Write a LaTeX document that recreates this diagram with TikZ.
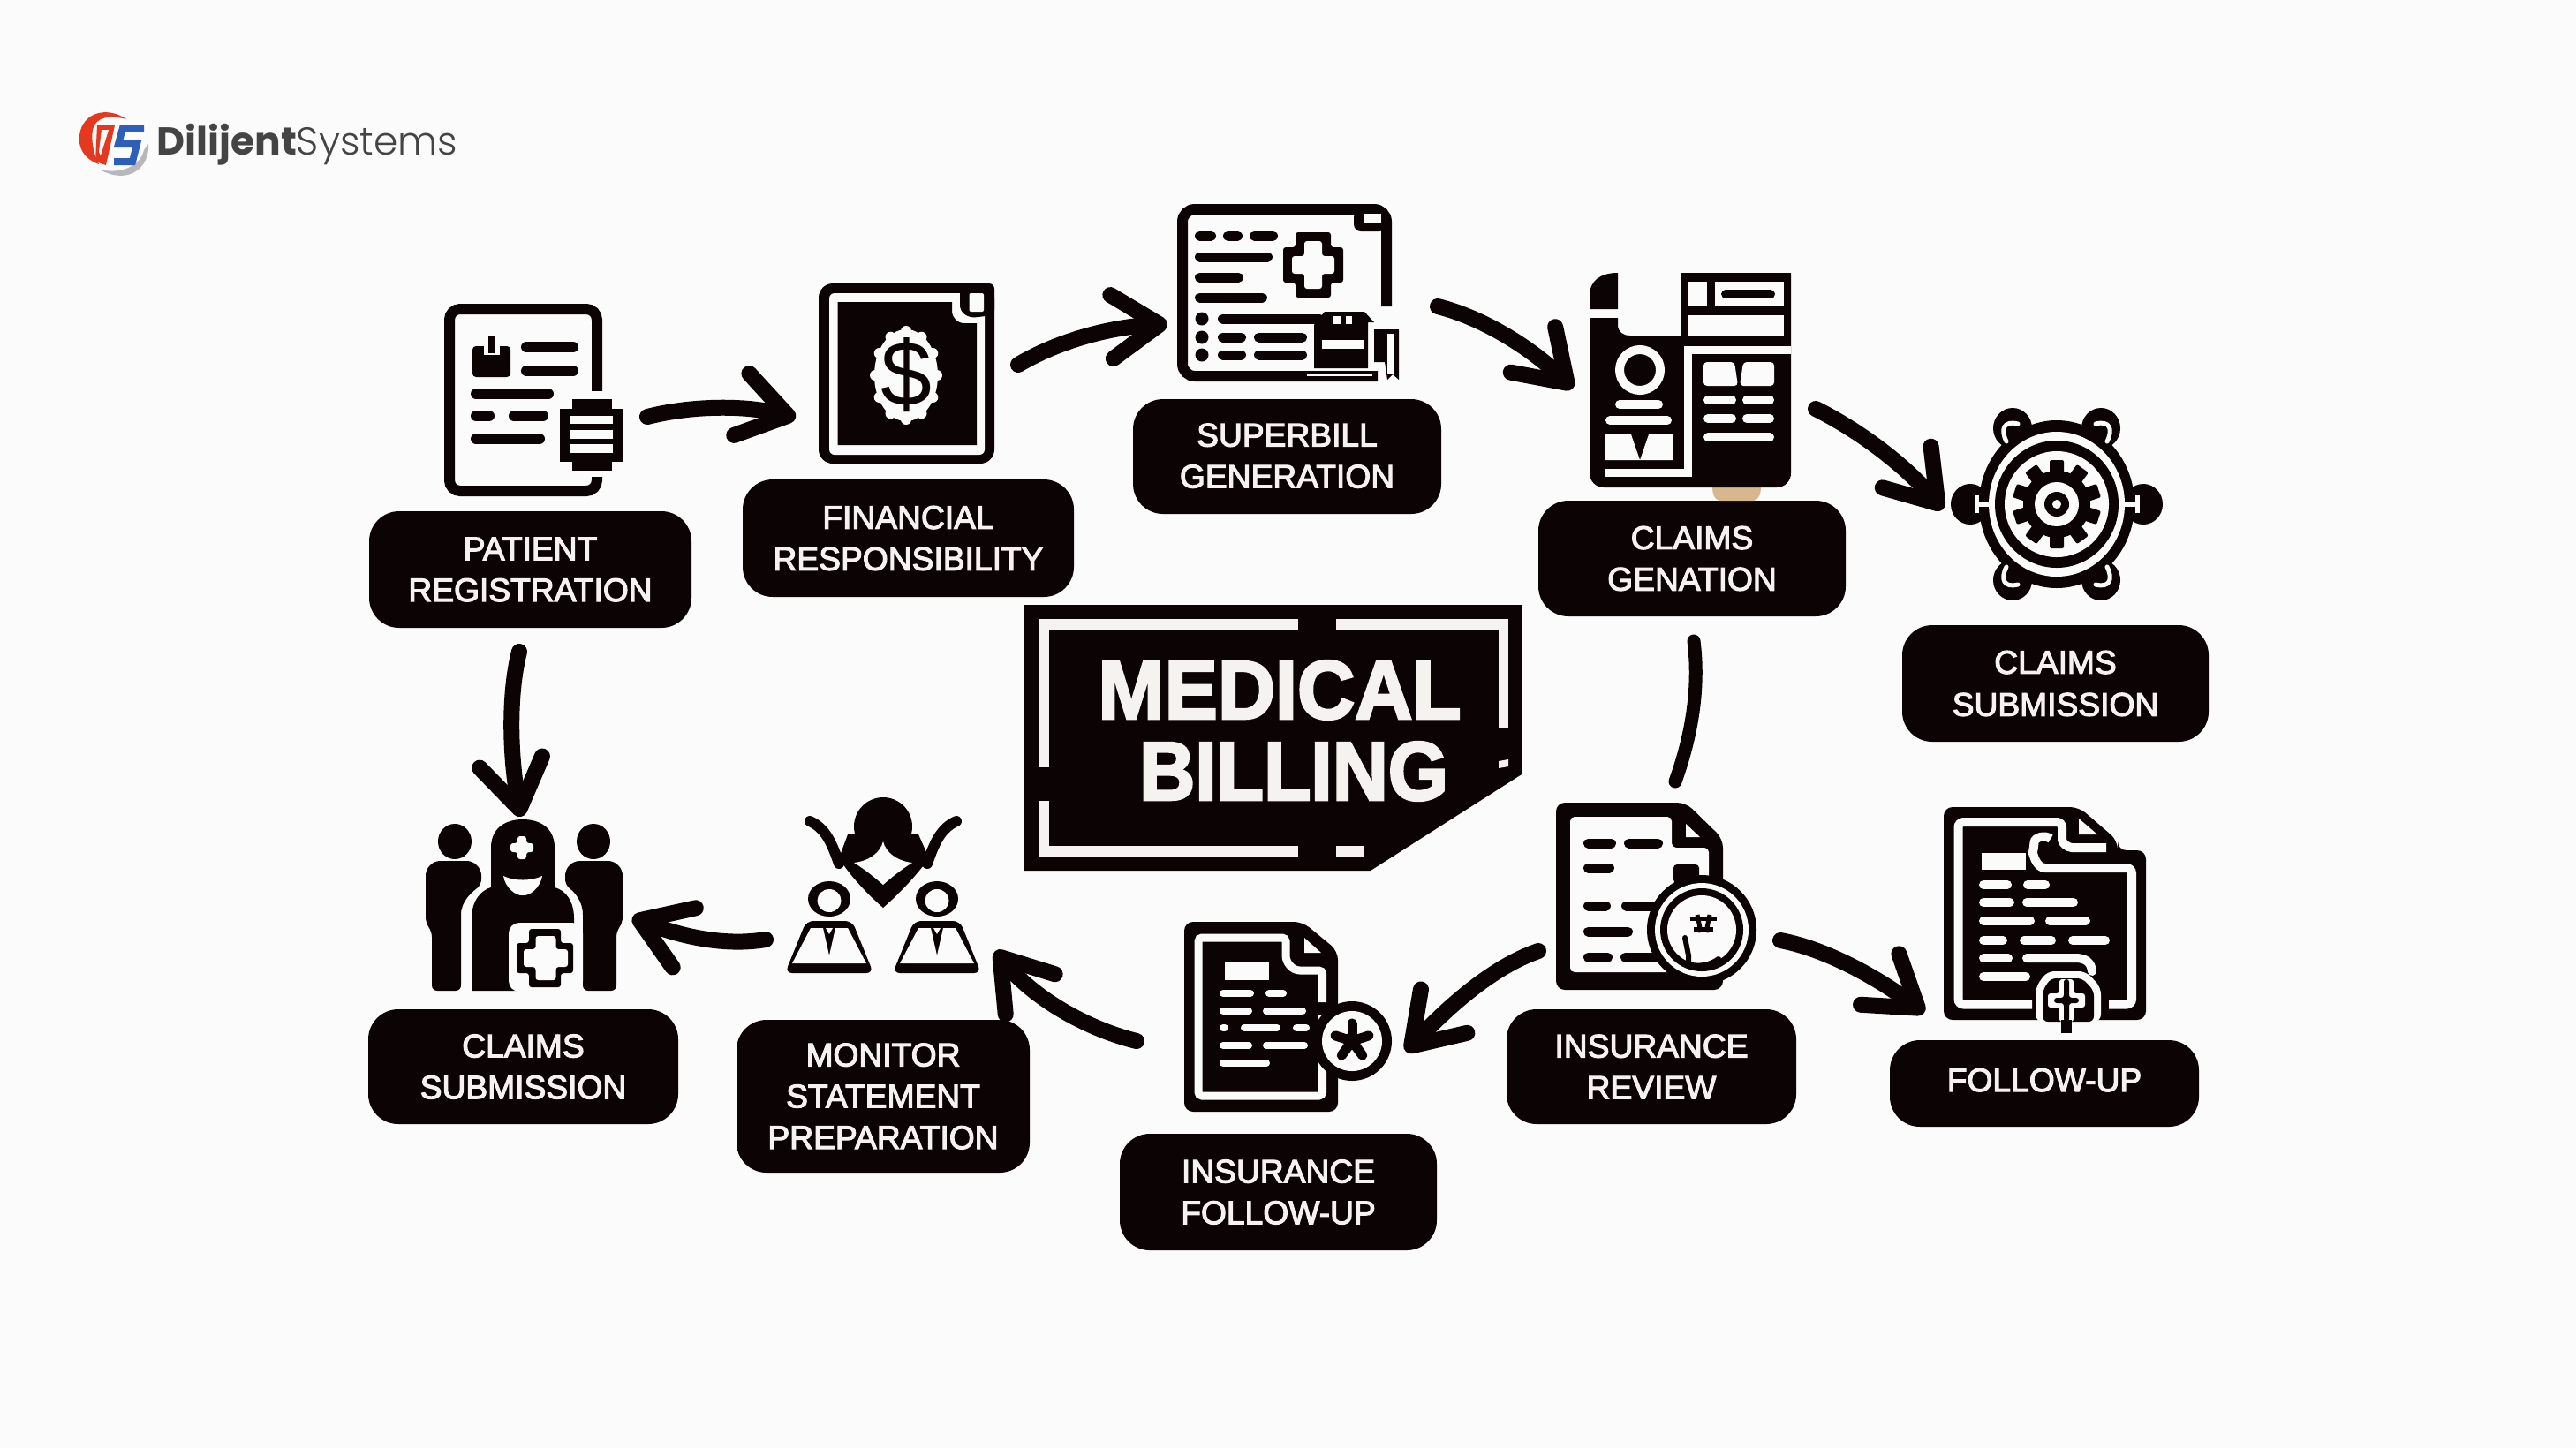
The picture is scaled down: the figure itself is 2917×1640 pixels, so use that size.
\documentclass[tikz,border=0pt]{standalone}
\usepackage{fontspec}
\usetikzlibrary{arrows.meta}
\setmainfont{Liberation Sans}
\newfontfamily\lablefont{Liberation Sans}[RawFeature={embolden=3}]
\newfontfamily\titlefont{Liberation Sans Bold}[RawFeature={embolden=3}]
\newfontfamily\logofont{Poppins}
\newfontfamily\logolight{Poppins Light}
\definecolor{ink}{HTML}{0C0404}
\definecolor{paper}{HTML}{FBFBFB}
\definecolor{glyph}{HTML}{F6F2F0}
\definecolor{logored}{HTML}{E5391F}
\definecolor{logoblue}{HTML}{2E5FB8}
\definecolor{logogrey}{HTML}{B8B8B8}
\definecolor{logotext}{HTML}{444444}
\definecolor{tan}{HTML}{D8B68E}
\tikzset{
  lab/.style={fill=ink,text=glyph,rounded corners=17pt,inner sep=0pt,align=center,
    font=\lablefont\fontsize{18.6pt}{23.4pt}\selectfont},
  flow/.style={draw=ink,line width=9pt,line cap=round,
    -{Straight Barb[length=27pt,width=36pt,line width=9pt,round]}},
  bare/.style={draw=ink,line width=7.5pt,line cap=round},
  bpillline/.style={draw=ink,line cap=round},
  wpillline/.style={draw=paper,line cap=round},
}
\newcommand\lbl[6]{\node[lab,minimum width={(#4-#2)*0.5pt},minimum height={(#5-#3)*0.5pt}] (#1) at ({(#2+#4)/2},{(#3+#5)/2}) {#6};}
\newcommand\bpill[4][11]{\draw[bpillline,line width=#1*0.5pt] ({#2+#1/2},#4) -- ({#3-#1/2},#4);}
\newcommand\wpill[4][10]{\draw[wpillline,line width=#1*0.5pt] ({#2+#1/2},#4) -- ({#3-#1/2},#4);}
% cx cy hx hy ax ay colour
\newcommand\plusshape[7]{\fill[#7,rounded corners=1.5pt] ({#1-#5},{#2-#4}) -- ({#1+#5},{#2-#4}) -- ({#1+#5},{#2-#6}) -- ({#1+#3},{#2-#6}) -- ({#1+#3},{#2+#6}) -- ({#1+#5},{#2+#6}) -- ({#1+#5},{#2+#4}) -- ({#1-#5},{#2+#4}) -- ({#1-#5},{#2+#6}) -- ({#1-#3},{#2+#6}) -- ({#1-#3},{#2-#6}) -- ({#1-#5},{#2-#6}) -- cycle;}
\begin{document}
\begin{tikzpicture}[x=0.5pt,y=-0.5pt]
\useasboundingbox (0,0) rectangle (2917,1640);
\fill[paper] (0,0) rectangle (2917,1640);

% ---------- logo
\fill[logogrey] (168,163) .. controls (170,190) and (145,210) .. (113,192) .. controls (135,197) and (158,190) .. (163,170) -- cycle;
\fill[logored] (143,135) .. controls (125,122) and (100,125) .. (92,145) .. controls (85,165) and (95,180) .. (112,186) .. controls (106,175) and (103,160) .. (105,147) .. controls (108,132) and (125,130) .. (143,135) -- cycle;
\fill[logored] (110,142) -- (130,142) -- (120,187) -- (108,183) -- cycle;
\fill[paper] (115,147) -- (123,147) -- (114,176) -- (112,172) -- cycle;
\draw[logoblue,line width=4pt,miter limit=10] (163,145) -- (139,145) -- (134,163) -- (155,163) -- (150,183) -- (129,183);
\node[anchor=base west,inner sep=0pt,text=logotext] (logo) at (177,175) {\fontsize{22pt}{22pt}\selectfont{\logofont\bfseries Dilijent}{\logolight Systems}};

% ---------- centre plate
\fill[ink] (1160,685) -- (1723,685) -- (1723,877) -- (1552,986) -- (1160,986) -- cycle;
\fill[glyph] (1177,701) rectangle (1470,713);
\fill[glyph] (1177,701) rectangle (1187.5,869);
\fill[glyph] (1177,907) rectangle (1187.5,970);
\fill[glyph] (1177,958) rectangle (1469.5,970);
\fill[glyph] (1512.5,958) rectangle (1545,970);
\fill[glyph] (1512.5,701) rectangle (1708,713);
\fill[glyph] (1697,701) rectangle (1708,825);
\fill[glyph] (1697,862) -- (1708,860) -- (1708,868) -- (1697,870) -- cycle;
\node[inner sep=0pt,text=glyph] (title1) at (1449,781.5) {\titlefont\fontsize{47pt}{47pt}\selectfont\scalebox{.96}[1]{MEDICAL}};
\node[inner sep=0pt,text=glyph] (title2) at (1465,873.5) {\titlefont\fontsize{47pt}{47pt}\selectfont\scalebox{.93}[1]{BILLING}};

% ---------- labels
\lbl{l1}{418}{579}{783}{711}{PATIENT\\REGISTRATION}
\lbl{l2}{841}{543}{1216}{676}{FINANCIAL\\RESPONSIBILITY}
\lbl{l3}{1283}{452}{1632}{582}{\raisebox{1pt}{SUPERBILL}\\\raisebox{1pt}{GENERATION}}
\lbl{l4}{1742}{567}{2090}{698}{CLAIMS\\GENATION}
\lbl{l5}{2154}{708}{2501}{840}{\raisebox{.5pt}{CLAIMS}\\SUBMISSION}
\lbl{l6}{2140}{1178}{2490}{1276}{\raisebox{4pt}{FOLLOW-UP}}
\lbl{l7}{1706}{1143}{2034}{1273}{INSURANCE\\REVIEW}
\lbl{l8}{1268}{1284}{1627}{1416}{INSURANCE\\FOLLOW-UP}
\lbl{l9}{834}{1155}{1166}{1328}{MONITOR\\STATEMENT\\PREPARATION}
\lbl{l10}{417}{1143}{768}{1273}{CLAIMS\\SUBMISSION}

% ---------- icon 1: patient form
\draw[ink,line width=6pt,rounded corners=6pt] (509,350) rectangle (676,556);
\fill[paper] (660,443) rectangle (700,540);
\fill[ink] (648,452) rectangle (693,533);
\fill[ink] (634,463) rectangle (706,523);
\fill[paper] (645,471) rectangle (694,480);
\fill[paper] (645,487) rectangle (694,497);
\fill[paper] (645,503) rectangle (694,513);
\fill[ink,rounded corners=2pt] (535,392) rectangle (578,427);
\fill[paper] (548,385) rectangle (566,402);
\fill[ink] (553,380) rectangle (561,400);
\bpill[12]{590}{655}{393}
\bpill[12]{590}{655}{420}
\bpill[12]{533}{627}{446}
\bpill[12]{533}{560}{471}
\bpill[12]{576}{621}{471}
\bpill[12]{533}{617}{497}

% ---------- icon 2: financial document
\fill[ink,rounded corners=8pt] (927,321) rectangle (1126,525);
\fill[paper,rounded corners=3pt] (939,332) rectangle (1115,515);
\fill[ink] (948.5,342) -- (1078,342) -- (1078,352) .. controls (1078,360) and (1084,366) .. (1092,366) -- (1106,366) -- (1106,504) -- (948.5,504) -- cycle;
\fill[ink,rounded corners=3pt] (1087,321) -- (1126,321) -- (1126,357) -- (1098,360) -- (1087,352) -- cycle;
\fill[paper,rounded corners=1pt] (1097.5,332) rectangle (1114,353);
\fill[paper] (1026,425) ellipse [x radius=36,y radius=52];
\foreach \a in {0,30,...,330} {\fill[paper] ({1026+35*cos(\a)},{425+50*sin(\a)}) circle [radius=6];}
\node[inner sep=0pt,text=ink] (dollar) at (1026,425) {\fontsize{52pt}{52pt}\selectfont\$};

% ---------- icon 3: superbill
\draw[ink,line width=6pt,rounded corners=7pt] (1570,347) -- (1570,237) -- (1339,237) -- (1339,426) -- (1560,426);
\fill[ink,rounded corners=4pt] (1533,238) -- (1570,238) -- (1570,262) -- (1533,262) -- cycle;
\fill[paper] (1545,242) rectangle (1564,253);
\bpill{1353}{1377}{267}
\bpill{1385}{1407}{267}
\bpill{1415}{1447}{267}
\bpill{1353}{1441}{291}
\bpill{1353}{1408}{314}
\bpill{1353}{1435}{337}
\plusshape{1487}{300}{34}{37}{20}{20}{ink}
\plusshape{1487}{300}{24}{27}{10}{10}{paper}
\foreach \y in {361,382,402} {\fill[ink] (1361,\y) circle [radius=7.5];}
\bpill{1379}{1500}{361}
\bpill{1379}{1411}{382}
\bpill{1420}{1480}{382}
\bpill{1379}{1411}{402}
\bpill{1420}{1480}{402}
\fill[ink] (1488,368) -- (1500,353) -- (1545,353) -- (1556,365) -- (1549,365) -- (1549,417) -- (1488,417) -- cycle;
\fill[paper] (1510,358) rectangle (1518,367);
\fill[paper] (1524,358) rectangle (1531,367);
\fill[paper] (1497,385) rectangle (1544,395);
\fill[paper] (1480,423) rectangle (1554,426);
\fill[ink] (1556,373) -- (1584,373) -- (1584,430) -- (1577,424) -- (1571,430) -- (1568,410) -- (1556,410) -- cycle;
\fill[paper] (1571,378) rectangle (1578,423);

% ---------- icon 4: claims form
\fill[ink] (1832,309) -- (1832,350) -- (1800,350) -- (1800,335) .. controls (1800,318) and (1812,309) .. (1832,309) -- cycle;
\fill[tan] (1939,550) -- (1994,550) .. controls (1994,560) and (1992,565) .. (1986,567) -- (1947,567) .. controls (1941,565) and (1939,560) .. (1939,550) -- cycle;
\fill[ink] (1800,360) -- (1832,360) -- (1832,368) .. controls (1832,376) and (1838,380) .. (1846,380) -- (1903,380) -- (1903,309) -- (2028,309) [rounded corners=8pt] -- (2028,552) -- (1800,552) [sharp corners] -- cycle;
\fill[paper] (1912,319) rectangle (1933,346);
\fill[paper] (1942,319) rectangle (2020,346);
\bpill[10]{1949}{2010}{333}
\fill[paper] (1912,357) rectangle (2020,380);
\draw[paper,line width=4.5pt] (2028,396) -- (1911.5,396) -- (1911.5,535.5) -- (1822,535.5);
\fill[paper] (1817,531) rectangle (1825,540);
\draw[paper,line width=5pt] (1857,419) circle [radius=23];
\wpill{1829}{1883}{458}
\wpill{1818}{1893}{476}
\fill[paper] (1817.5,492) -- (1847,492) -- (1857,521) -- (1867,492) -- (1894.5,492) -- (1894.5,521) -- (1817.5,521) -- cycle;
\fill[paper,rounded corners=2pt] (1929,410) -- (1964,410) -- (1968,437) -- (1929,437) -- cycle;
\fill[paper,rounded corners=2pt] (1974,410) -- (2009,410) -- (2009,437) -- (1970,437) -- cycle;
\wpill{1929}{1966}{453}
\wpill{1973}{2009}{453}
\wpill{1929}{1966}{474}
\wpill{1973}{2009}{474}
\wpill{1929}{2009}{495}

% ---------- icon 5: wheel of gears
\foreach \dx/\dy in {-50/-86,50/-86,-98/0,98/0,-50/86,50/86} {\fill[ink] ({2329+\dx},{571+\dy}) ellipse [x radius=22,y radius=23];}
\fill[ink] (2329,571) ellipse [x radius=88,y radius=95];
\foreach \sx in {1,-1} {\foreach \sy in {1,-1} {
  \draw[paper,line width=2.5pt,line cap=round,shift={(2329,571)},xscale=\sx,yscale=\sy] (-57,-71) .. controls (-64,-85) and (-60,-95) .. (-44,-91);
}}
\draw[paper,line width=2.5pt] (2238,571) -- (2256,571);
\draw[paper,line width=2.5pt] (2238,561) -- (2238,581);
\draw[paper,line width=2.5pt] (2402,571) -- (2420,571);
\draw[paper,line width=2.5pt] (2420,561) -- (2420,581);
\fill[paper] (2329,571) ellipse [x radius=77,y radius=82];
\fill[ink] (2329,571) ellipse [x radius=70,y radius=72];
\fill[paper] (2329,571) ellipse [x radius=59,y radius=60];
\foreach \a in {0,36,...,324} {\fill[ink,shift={(2329,571)},rotate=\a,rounded corners=1pt] (-8,-50) rectangle (8,0);}
\fill[ink] (2329,571) circle [radius=38];
\fill[paper] (2329,571) circle [radius=25];
\fill[ink] (2329,571) circle [radius=14];
\fill[paper] (2329,571) circle [radius=5];

% ---------- icon 6: insurance review document
\fill[ink,rounded corners=5pt] (1762,909) -- (1909,909) -- (1951,950) -- (1951,1121) -- (1762,1121) -- cycle;
\fill[paper,rounded corners=2.5pt] (1778,925) -- (1893,925) -- (1893,960) -- (1935,960) -- (1935,1101) -- (1778,1101) -- cycle;
\fill[paper] (1909,933) -- (1925,948) -- (1909,948) -- cycle;
\bpill{1793}{1830}{955}
\bpill{1839}{1883}{955}
\bpill{1793}{1828}{983}
\bpill{1793}{1824}{1026}
\bpill{1836}{1880}{1026}
\bpill{1793}{1849}{1055}
\bpill{1793}{1826}{1084}
\bpill{1835}{1880}{1084}
\fill[ink,rounded corners=2pt] (1895,979) rectangle (1924,1000);
\fill[ink] (1927,1053) circle [radius=62];
\fill[paper] (1927,1053) circle [radius=53];
\fill[ink] (1927,1053) circle [radius=47];
\fill[paper] (1927,1053) circle [radius=39];
\draw[ink,line width=2.5pt] (1914,1040) -- (1944,1040);
\draw[ink,line width=2.5pt] (1918,1052) -- (1940,1052);
\draw[ink,line width=2.5pt] (1922,1036) -- (1926,1056);
\draw[ink,line width=2.5pt] (1936,1036) -- (1932,1056);
\draw[ink,line width=3pt,line cap=round] (1908,1062) -- (1912,1082) -- (1912,1092) .. controls (1925,1096) and (1938,1092) .. (1946,1086);

% ---------- icon 7: follow-up document
\fill[ink,rounded corners=5pt] (2201,914) -- (2354,914) -- (2398,952) -- (2398,963) -- (2430,963) -- (2430,1155) -- (2201,1155) -- cycle;
\draw[paper,line width=5pt,rounded corners=3pt] (2301,1137.5) -- (2217.5,1137.5) -- (2217.5,931) -- (2335,931) -- (2335,945) .. controls (2335,955) and (2342,960) .. (2352,960) -- (2385,960);
\draw[paper,line width=5pt,rounded corners=3pt] (2388,1137.5) -- (2414,1137.5) -- (2414,983) -- (2322,983) .. controls (2305,983) and (2302,965) .. (2303,960) .. controls (2304,948) and (2316,945) .. (2322,950);
\fill[paper] (2354,927) -- (2375,945) -- (2354,945) -- cycle;
\fill[paper] (2244,966) rectangle (2294,985);
\wpill{2241}{2278}{1002}
\wpill{2291}{2321}{1002}
\wpill{2241}{2281}{1022}
\wpill{2290}{2353}{1022}
\wpill{2241}{2304}{1043}
\wpill{2316}{2367}{1043}
\wpill{2241}{2273}{1065}
\wpill{2287}{2328}{1065}
\wpill{2342}{2389}{1065}
\wpill{2241}{2279}{1085}
\draw[wpillline,line width=5pt] (2295,1085) -- (2350,1085) .. controls (2362,1085) and (2368,1090) .. (2369,1100);
\wpill{2241}{2299}{1106}
\fill[paper,rounded corners=4pt] (2305,1157) -- (2305,1118) -- (2318,1100) -- (2362,1100) -- (2379,1118) -- (2379,1157) -- cycle;
\fill[ink,rounded corners=3pt] (2313,1157) -- (2313,1122) -- (2322,1108) -- (2358,1108) -- (2371,1122) -- (2371,1157) -- cycle;
\plusshape{2340}{1133}{21}{24}{8}{8}{paper}
\plusshape{2340}{1133}{14}{24}{3}{3}{ink}
\fill[ink] (2334,1155) rectangle (2346,1170);

% ---------- icon 8: insurance follow-up document
\fill[ink,rounded corners=5pt] (1341,1044) -- (1475,1044) -- (1515,1077) -- (1515,1259) -- (1341,1259) -- cycle;
\draw[paper,line width=4.5pt,rounded corners=2pt] (1497.5,1150) -- (1497.5,1241) -- (1357,1241) -- (1357,1062) -- (1456,1062) -- (1456,1078) .. controls (1456,1090) and (1463,1099) .. (1476,1099) -- (1497.5,1099) -- (1497.5,1135);
\fill[paper] (1477,1062) -- (1496,1079) -- (1477,1079) -- cycle;
\fill[paper] (1387,1089) rectangle (1437,1110);
\wpill[8]{1381}{1420}{1125}
\wpill[8]{1433}{1457}{1125}
\wpill[8]{1381}{1418}{1145}
\wpill[8]{1430}{1479}{1145}
\wpill[8]{1381}{1391}{1164}
\wpill[8]{1405}{1450}{1164}
\wpill[8]{1464}{1483}{1164}
\wpill[8]{1381}{1418}{1184}
\wpill[8]{1430}{1481}{1184}
\wpill[8]{1381}{1438}{1204}
\fill[ink] (1531,1179) circle [radius=45];
\fill[paper] (1531,1179) circle [radius=34];
\foreach \a in {90,162,234,306,18} {\draw[ink,line width=5.5pt,line cap=round] (1531,1179) -- ({1531+20*cos(\a)},{1179-20*sin(\a)});}
\fill[ink] (1531,1179) circle [radius=10];

% ---------- icon 9: monitor people
\draw[ink,line width=6pt,line cap=round,line join=round] (917,930) .. controls (935,938) and (942,955) .. (950,978);
\draw[ink,line width=6pt,line cap=round,line join=round] (1083,930) .. controls (1065,938) and (1058,955) .. (1050,978);
\fill[ink] (950,972) .. controls (965,995) and (985,1015) .. (1000,1028) .. controls (1015,1015) and (1035,995) .. (1052,972) -- (1040,945) -- (960,945) -- cycle;
\fill[ink] (1000,936) ellipse [x radius=33,y radius=33];
\fill[paper] (1000,953) .. controls (1003,965) and (1015,975) .. (1033,977) .. controls (1020,985) and (1008,995) .. (1000,1002) .. controls (992,995) and (980,985) .. (967,977) .. controls (985,975) and (997,965) .. (1000,953) -- cycle;
\foreach \c in {939,1061} {
  \fill[ink] (\c,1018) ellipse [x radius=24,y radius=20];
  \fill[ink,rounded corners=4pt] ({\c-26},1043) -- ({\c+26},1043) -- ({\c+50},1102) -- ({\c-50},1102) -- cycle;
  \fill[paper] (\c,1020) ellipse [x radius=13.5,y radius=13];
  \fill[paper] ({\c-21},1051) -- ({\c-7},1051) -- (\c,1082) -- ({\c+7},1051) -- ({\c+21},1051) -- ({\c+42},1091) -- ({\c-42},1091) -- cycle;
  \fill[paper] ({\c-4},1051) -- ({\c+4},1051) -- (\c,1058) -- cycle;
}

% ---------- icon 10: staff group
\fill[ink] (515,953) ellipse [x radius=19,y radius=20];
\fill[ink] (672,953) ellipse [x radius=19,y radius=20];
\fill[ink,rounded corners=3pt] (489,1122) -- (489,1055) -- (482,1045) -- (482,985) -- (492,975) -- (535,975) -- (545,985) -- (545,1002) .. controls (535,1010) and (522,1020) .. (522,1042) -- (522,1122) -- cycle;
\fill[ink,rounded corners=3pt] (698,1122) -- (698,1055) -- (705,1045) -- (705,985) -- (695,975) -- (650,975) -- (640,985) -- (640,1002) .. controls (650,1010) and (660,1020) .. (660,1042) -- (660,1122) -- cycle;
\fill[ink] (534,1122) -- (534,1040) .. controls (534,1020) and (545,1008) .. (556,1005) -- (556,960) .. controls (556,938) and (572,928) .. (592,928) .. controls (612,928) and (628,938) .. (628,960) -- (628,1005) .. controls (640,1008) and (650,1020) .. (650,1040) -- (650,1122) -- cycle;
\fill[paper] (570,992) .. controls (582,998) and (602,998) .. (614,992) .. controls (612,1005) and (600,1015) .. (592,1014) .. controls (584,1015) and (572,1005) .. (570,992) -- cycle;
\plusshape{591}{960}{13}{13}{5}{5}{paper}
\fill[paper,rounded corners=6pt] (576,1123) -- (576,1045) -- (660,1045) -- (660,1123) -- cycle;
\plusshape{617}{1085}{32}{33}{18}{17}{ink}
\plusshape{618}{1085}{25}{25}{11.5}{10}{paper}

% ---------- connectors
\coordinate (a1s) at (733,472); \coordinate (a1e) at (901,473);
\coordinate (a2s) at (1153,413); \coordinate (a2e) at (1322,367);
\coordinate (a3s) at (1628,347); \coordinate (a3e) at (1781,440);
\coordinate (a4s) at (2056,463); \coordinate (a4e) at (2200,577);
\coordinate (a5s) at (1918,726); \coordinate (a5e) at (1897,885);
\coordinate (a6s) at (2016,1065); \coordinate (a6e) at (2179,1147);
\coordinate (a7s) at (1742,1077); \coordinate (a7e) at (1592,1191);
\coordinate (a8s) at (1287,1179); \coordinate (a8e) at (1127,1077);
\coordinate (a9s) at (867,1064); \coordinate (a9e) at (716,1039);
\coordinate (a10s) at (588,738); \coordinate (a10e) at (590,925);
\draw[flow] (a1s) .. controls (780,460) and (840,458) .. (a1e);
\draw[flow] (a2s) .. controls (1200,385) and (1260,370) .. (a2e);
\draw[flow] (a3s) .. controls (1680,360) and (1735,395) .. (a3e);
\draw[flow] (a4s) .. controls (2110,490) and (2160,530) .. (a4e);
\draw[bare] (a5s) .. controls (1925,780) and (1915,835) .. (a5e);
\draw[flow] (a6s) .. controls (2070,1075) and (2130,1110) .. (a6e);
\draw[flow] (a7s) .. controls (1690,1095) and (1640,1140) .. (a7e);
\draw[flow] (a8s) .. controls (1230,1165) and (1170,1130) .. (a8e);
\draw[flow] (a9s) .. controls (820,1072) and (770,1060) .. (a9e);
\draw[flow] (a10s) .. controls (575,790) and (578,860) .. (a10e);
\end{tikzpicture}
\end{document}
